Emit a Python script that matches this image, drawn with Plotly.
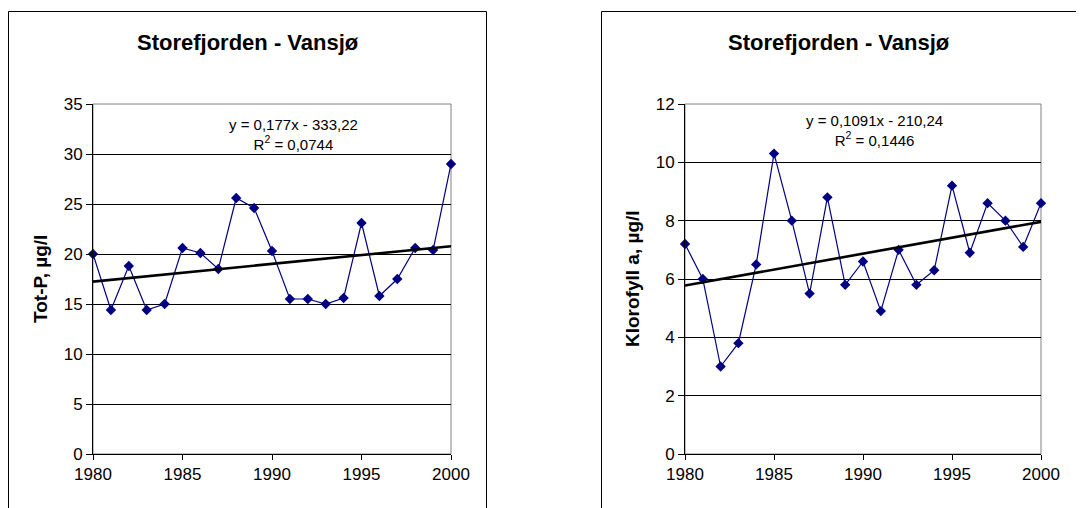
import plotly.graph_objects as go

years = list(range(1980, 2001))
tot_p = [20.0, 14.4, 18.8, 14.4, 15.0, 20.6, 20.1, 18.5, 25.6, 24.6, 20.3,
         15.5, 15.5, 15.0, 15.6, 23.1, 15.8, 17.5, 20.6, 20.4, 29.0]
klorofyll = [7.2, 6.0, 3.0, 3.8, 6.5, 10.3, 8.0, 5.5, 8.8, 5.8, 6.6,
             4.9, 7.0, 5.8, 6.3, 9.2, 6.9, 8.6, 8.0, 7.1, 8.6]
trend_p = (0.177, -333.22)
trend_k = (0.1091, -210.24)
title_text = "Storefjorden - Vansjø"
eq_p = "y = 0,177x - 333,22<br>R<sup>2</sup> = 0,0744"
eq_k = "y = 0,1091x - 210,24<br>R<sup>2</sup> = 0,1446"
ylab_p = "Tot-P, µg/l"
ylab_k = "Klorofyll a, µg/l"

W, H = 1084, 508
OFF = 8  # page body margin
FONT = "Liberation Sans, Arial, sans-serif"
NAVY = "#000080"

def px(x):
    return (x - OFF) / W

def py(y):
    return 1 - (y - OFF) / H

fig = go.Figure()

# data traces
fig.add_trace(go.Scatter(x=years, y=tot_p, mode="lines+markers",
                         line=dict(color=NAVY, width=1.2),
                         marker=dict(symbol="diamond", size=8, color=NAVY),
                         cliponaxis=False, xaxis="x", yaxis="y", showlegend=False))
fig.add_trace(go.Scatter(x=years, y=klorofyll, mode="lines+markers",
                         line=dict(color=NAVY, width=1.2),
                         marker=dict(symbol="diamond", size=8, color=NAVY),
                         cliponaxis=False, xaxis="x2", yaxis="y2", showlegend=False))

# trend lines
xs = [years[0], years[-1]]
fig.add_trace(go.Scatter(x=xs, y=[trend_p[0] * x + trend_p[1] for x in xs], mode="lines",
                         line=dict(color="black", width=2.6), cliponaxis=False,
                         xaxis="x", yaxis="y", showlegend=False))
fig.add_trace(go.Scatter(x=xs, y=[trend_k[0] * x + trend_k[1] for x in xs], mode="lines",
                         line=dict(color="black", width=2.6), cliponaxis=False,
                         xaxis="x2", yaxis="y2", showlegend=False))

ydom = [py(454), py(104)]
xaxis_common = dict(range=[1980, 2000], tick0=1980, dtick=5, showgrid=False,
                    showline=True, linecolor="black", linewidth=1,
                    ticks="outside", ticklen=5, tickcolor="black",
                    tickfont=dict(family=FONT, size=17, color="black"),
                    zeroline=False, fixedrange=True, automargin=False)
yaxis_common = dict(showgrid=True, gridcolor="#000000", gridwidth=1,
                    showline=True, linecolor="black", linewidth=1,
                    ticks="outside", ticklen=6, tickcolor="black",
                    tickfont=dict(family=FONT, size=17, color="black"),
                    zeroline=False, fixedrange=True, automargin=False)

fig.update_layout(
    width=W, height=H,
    margin=dict(l=0, r=0, t=0, b=0, pad=0, autoexpand=False),
    paper_bgcolor="white", plot_bgcolor="white",
    xaxis=dict(domain=[px(93), px(451)], anchor="y", **xaxis_common),
    yaxis=dict(domain=ydom, anchor="x", range=[0, 35], dtick=5, **yaxis_common),
    xaxis2=dict(domain=[px(685), px(1041)], anchor="y2", **xaxis_common),
    yaxis2=dict(domain=ydom, anchor="x2", range=[0, 12], dtick=2, **yaxis_common),
    showlegend=False,
)

# plot area borders (gray) and chart area borders (black)
shapes = []
for xr, yr in (("x domain", "y domain"), ("x2 domain", "y2 domain")):
    shapes.append(dict(type="rect", xref=xr, yref=yr, x0=0, x1=1, y0=0, y1=1,
                       line=dict(color="#808080", width=1), layer="below"))
shapes.append(dict(type="rect", xref="paper", yref="paper",
                   x0=px(8.5), x1=px(486.5), y0=py(530), y1=py(11.5),
                   line=dict(color="black", width=1), layer="below"))
shapes.append(dict(type="rect", xref="paper", yref="paper",
                   x0=px(601.5), x1=px(1110), y0=py(530), y1=py(11.5),
                   line=dict(color="black", width=1), layer="below"))
fig.update_layout(shapes=shapes)

annotations = [
    dict(text="<b>" + title_text + "</b>", x=px(248), y=py(43), xref="paper", yref="paper",
         showarrow=False, xanchor="center", yanchor="middle",
         font=dict(family=FONT, size=22, color="black")),
    dict(text="<b>" + title_text + "</b>", x=px(839), y=py(43), xref="paper", yref="paper",
         showarrow=False, xanchor="center", yanchor="middle",
         font=dict(family=FONT, size=22, color="black")),
    dict(text="<b>" + ylab_p + "</b>", x=px(40), y=py(279), xref="paper", yref="paper",
         showarrow=False, xanchor="center", yanchor="middle", textangle=-90,
         font=dict(family=FONT, size=19, color="black")),
    dict(text="<b>" + ylab_k + "</b>", x=px(632), y=py(279), xref="paper", yref="paper",
         showarrow=False, xanchor="center", yanchor="middle", textangle=-90,
         font=dict(family=FONT, size=19, color="black")),
    dict(text=eq_p, x=px(293), y=py(134), xref="paper", yref="paper",
         showarrow=False, xanchor="center", yanchor="middle", align="center",
         font=dict(family=FONT, size=15, color="black")),
    dict(text=eq_k, x=px(874), y=py(130), xref="paper", yref="paper",
         showarrow=False, xanchor="center", yanchor="middle", align="center",
         font=dict(family=FONT, size=15, color="black")),
]
fig.update_layout(annotations=annotations)

fig.write_html("out.html")
